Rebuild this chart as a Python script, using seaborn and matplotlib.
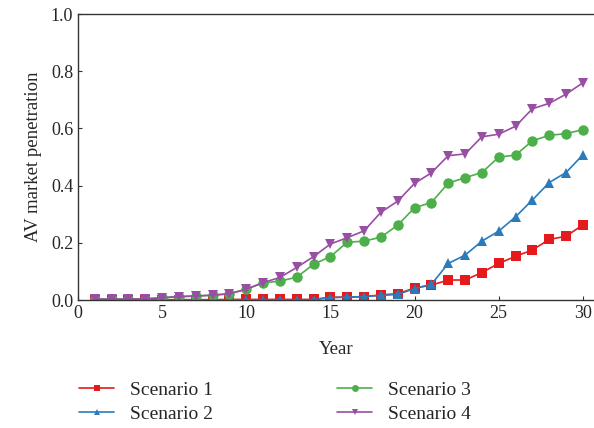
import matplotlib
matplotlib.use("Agg")
import matplotlib.pyplot as plt
import pandas as pd
import seaborn as sns

years = list(range(1, 31))

scenario_1 = [0.001, 0.001, 0.001, 0.001, 0.001, 0.001, 0.001, 0.001, 0.002, 0.002,
              0.002, 0.002, 0.002, 0.002, 0.010, 0.010, 0.012, 0.018, 0.022, 0.042,
              0.052, 0.070, 0.070, 0.096, 0.128, 0.153, 0.175, 0.212, 0.223, 0.263]
scenario_2 = [0.001, 0.001, 0.001, 0.001, 0.001, 0.001, 0.001, 0.001, 0.001, 0.001,
              0.001, 0.001, 0.001, 0.001, 0.008, 0.010, 0.012, 0.016, 0.020, 0.040,
              0.055, 0.128, 0.157, 0.206, 0.241, 0.291, 0.350, 0.411, 0.446, 0.508]
scenario_3 = [0.003, 0.003, 0.003, 0.004, 0.008, 0.012, 0.014, 0.017, 0.022, 0.038,
              0.060, 0.066, 0.080, 0.125, 0.152, 0.202, 0.206, 0.220, 0.262, 0.323,
              0.341, 0.409, 0.428, 0.446, 0.500, 0.507, 0.557, 0.576, 0.582, 0.596]
scenario_4 = [0.003, 0.003, 0.003, 0.004, 0.008, 0.012, 0.014, 0.017, 0.022, 0.038,
              0.061, 0.079, 0.114, 0.152, 0.196, 0.218, 0.242, 0.307, 0.346, 0.408,
              0.445, 0.505, 0.511, 0.571, 0.580, 0.608, 0.669, 0.688, 0.720, 0.760]

names = ["Scenario 1", "Scenario 2", "Scenario 3", "Scenario 4"]
colors = ["#e41a1c", "#2b7bba", "#4daf4a", "#984ea3"]
markers = ["s", "^", "o", "v"]

df = pd.concat([
    pd.DataFrame({"Year": years, "value": vals, "scenario": name})
    for name, vals in zip(names, [scenario_1, scenario_2, scenario_3, scenario_4])
])

sns.set_style("ticks")
plt.rcParams["font.family"] = ["Liberation Serif", "DejaVu Serif"]

fig = plt.figure(figsize=(5.94, 4.28), dpi=100)
ax = fig.add_axes([0.1313, 0.299, 0.8687, 0.668])

sns.lineplot(data=df, x="Year", y="value", hue="scenario", style="scenario",
             palette=dict(zip(names, colors)), markers=dict(zip(names, markers)),
             dashes=False, linewidth=1.2, markersize=7.5, markeredgewidth=0, ax=ax)

handles, labels = ax.get_legend_handles_labels()
ax.get_legend().remove()
for h in handles:
    h.set_markersize(5)
fig.legend(handles, labels, ncol=2, loc="upper left", bbox_to_anchor=(0.12, 0.128),
           frameon=False, fontsize=14, handlelength=1.8, columnspacing=6.4,
           labelspacing=0.35, handletextpad=0.8, borderaxespad=0)

ax.set_xlim(0, 30.66)
ax.set_ylim(0, 1.0)
ax.set_xticks([0, 5, 10, 15, 20, 25, 30])
ax.set_yticks([0.0, 0.2, 0.4, 0.6, 0.8, 1.0])
ax.set_yticklabels(["0.0", "0.2", "0.4", "0.6", "0.8", "1.0"])
ax.set_xlabel("Year", fontsize=13.5, labelpad=14)
ax.set_ylabel("AV market penetration", fontsize=13.5, labelpad=6)
ax.tick_params(direction="in", length=3, width=0.8, labelsize=13, color="#333333")
for side in ["left", "bottom", "top"]:
    ax.spines[side].set_color("#333333")
    ax.spines[side].set_linewidth(1.0)
ax.spines["right"].set_visible(False)

fig.savefig("out.png", dpi=100)
